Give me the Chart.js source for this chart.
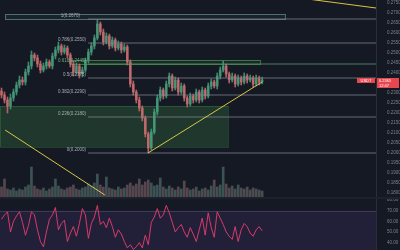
<!DOCTYPE html>
<html>
<head>
<meta charset="utf-8">
<script src="https://cdn.jsdelivr.net/npm/chart.js@4.4.1/dist/chart.umd.min.js"></script>
<style>
  html, body { margin: 0; padding: 0; background: #151924; }
  #wrap { position: relative; width: 400px; height: 250px; overflow: hidden; background: #151924; }
  canvas { position: absolute; left: 0; }
  #priceCanvas { top: 0; }
  #rsiCanvas { top: 199px; }
  #sep { position: absolute; left: 0; top: 197px; width: 400px; height: 2px; background: #1d212c; }
</style>
</head>
<body>
<div id="wrap">
  <canvas id="priceCanvas" width="400" height="199"></canvas>
  <div id="sep"></div>
  <canvas id="rsiCanvas" width="400" height="51"></canvas>
</div>
<script>
// ---- data ----
const opens = [0.2310,0.2290,0.2265,0.2235,0.2275,0.2305,0.2340,0.2365,0.2355,0.2405,
  0.2435,0.2490,0.2475,0.2445,0.2415,0.2435,0.2455,0.2435,0.2485,0.2515,
  0.2535,0.2505,0.2525,0.2490,0.2445,0.2405,0.2435,0.2395,0.2415,0.2465,
  0.2505,0.2535,0.2575,0.2645,0.2605,0.2555,0.2585,0.2535,0.2565,0.2525,
  0.2545,0.2515,0.2530,0.2455,0.2345,0.2305,0.2265,0.2225,0.2175,0.2095,
  0.2025,0.2105,0.2205,0.2275,0.2315,0.2285,0.2345,0.2385,0.2325,0.2365,
  0.2305,0.2335,0.2275,0.2245,0.2285,0.2265,0.2305,0.2265,0.2315,0.2285,
  0.2335,0.2355,0.2335,0.2385,0.2415,0.2435,0.2395,0.2365,0.2385,0.2345,
  0.2375,0.2355,0.2385,0.2365,0.2375,0.2345,0.2375,0.2355];
const highs = [0.2325,0.2305,0.2280,0.2295,0.2320,0.2355,0.2385,0.2380,0.2420,0.2455,
  0.2510,0.2500,0.2490,0.2460,0.2450,0.2470,0.2465,0.2500,0.2530,0.2555,
  0.2545,0.2540,0.2535,0.2500,0.2460,0.2450,0.2445,0.2430,0.2475,0.2520,
  0.2550,0.2590,0.2665,0.2655,0.2620,0.2600,0.2595,0.2580,0.2575,0.2560,
  0.2555,0.2545,0.2540,0.2465,0.2360,0.2315,0.2280,0.2235,0.2185,0.2105,
  0.2120,0.2220,0.2290,0.2330,0.2325,0.2360,0.2400,0.2395,0.2380,0.2375,
  0.2350,0.2345,0.2285,0.2300,0.2295,0.2320,0.2315,0.2330,0.2325,0.2350,
  0.2370,0.2365,0.2400,0.2430,0.2460,0.2445,0.2405,0.2400,0.2395,0.2390,
  0.2385,0.2400,0.2395,0.2390,0.2385,0.2390,0.2385,0.2380];
const lows = [0.2275,0.2250,0.2200,0.2220,0.2260,0.2290,0.2325,0.2340,0.2340,0.2390,
  0.2420,0.2460,0.2430,0.2400,0.2405,0.2420,0.2425,0.2420,0.2470,0.2500,
  0.2490,0.2495,0.2475,0.2430,0.2385,0.2395,0.2375,0.2380,0.2405,0.2450,
  0.2490,0.2520,0.2565,0.2590,0.2540,0.2545,0.2520,0.2525,0.2510,0.2515,
  0.2500,0.2505,0.2440,0.2330,0.2290,0.2250,0.2210,0.2160,0.2080,0.2000,
  0.2015,0.2095,0.2190,0.2260,0.2270,0.2275,0.2330,0.2310,0.2315,0.2290,
  0.2295,0.2260,0.2230,0.2235,0.2250,0.2255,0.2250,0.2255,0.2270,0.2275,
  0.2320,0.2325,0.2320,0.2370,0.2405,0.2380,0.2350,0.2355,0.2330,0.2335,
  0.2340,0.2345,0.2350,0.2355,0.2330,0.2335,0.2340,0.2345];
const closes = [0.2290,0.2265,0.2235,0.2275,0.2305,0.2340,0.2365,0.2355,0.2405,0.2435,
  0.2490,0.2475,0.2445,0.2415,0.2435,0.2455,0.2435,0.2485,0.2515,0.2535,
  0.2505,0.2525,0.2490,0.2445,0.2405,0.2435,0.2395,0.2415,0.2465,0.2505,
  0.2535,0.2575,0.2645,0.2605,0.2555,0.2585,0.2535,0.2565,0.2525,0.2545,
  0.2515,0.2530,0.2455,0.2345,0.2305,0.2265,0.2225,0.2175,0.2095,0.2025,
  0.2105,0.2205,0.2275,0.2315,0.2285,0.2345,0.2385,0.2325,0.2365,0.2305,
  0.2335,0.2275,0.2245,0.2285,0.2265,0.2305,0.2265,0.2315,0.2285,0.2335,
  0.2355,0.2335,0.2385,0.2415,0.2435,0.2395,0.2365,0.2385,0.2345,0.2375,
  0.2355,0.2385,0.2365,0.2375,0.2345,0.2375,0.2355,0.2365];
const volumes = [1.2,2.0,1.0,0.9,1.1,0.8,1.0,0.9,1.2,1.4,
  3.2,1.3,1.0,0.9,1.1,0.8,1.0,1.2,2.0,1.3,
  1.0,0.9,1.1,1.2,1.4,1.0,0.9,1.1,1.2,1.5,
  1.3,1.6,2.5,1.4,1.2,2.2,1.1,1.0,0.9,1.2,
  1.0,1.1,1.4,1.6,1.3,1.5,2.0,1.4,1.7,1.9,
  1.6,1.3,1.4,2.1,1.2,1.0,1.3,1.1,0.9,1.2,
  1.0,1.8,1.1,0.9,1.0,1.2,0.8,1.0,1.1,0.9,
  1.3,1.9,1.2,1.4,3.2,1.5,1.1,1.3,1.0,1.4,
  1.1,1.0,1.2,0.9,1.1,1.0,0.9,0.8];
const rsiValues = [62,66,69,50,60,65,69,59,47,56,
  69,66,52,41,36,50,62,66,73,52,
  58,61,41,49,55,46,58,72,66,44,
  58,64,75,57,60,54,63,55,45,52,
  48,41,35,38,33.5,36,40,35,47,38,
  59,64,72,63,66,75,68,59,50,54,
  57,50,45,54,48,41,52,63,47,68,
  54,45,69,63,57,50,46,43,55,41,
  52,58,55,49,46,52,55,51];

const priceTicks = [0.2750,0.2700,0.2650,0.2600,0.2550,0.2500,0.2450,0.2400,0.2350,0.2300,
  0.2250,0.2200,0.2150,0.2100,0.2050,0.2000,0.1950,0.1900,0.1850,0.1800];
const rsiTicks = [80, 70, 60, 50, 40];

// fibonacci retracement (ratio, price)
const fibRatios = ['1', '0.786', '0.618', '0.5', '0.382', '0.236', '0'];
const fibPrices = [0.2670, 0.2550, 0.2445, 0.2375, 0.2290, 0.2180, 0.2000];
const fibStart = 28.9;
const barsEnd = 125;

// boxes: [fromIndex, toIndex, topPrice, bottomPrice]
const zoneBox = [-0.5, 75.6, 0.2235, 0.2030];
const topBox = [1.2, 94.6, 0.2695, 0.2670];
const goldenBox = [22.9, 86.3, 0.2465, 0.2445];

// trend lines: [[index, price], [index, price]]
const trendDown = [[1.2, 0.2115], [34.5, 0.1790]];
const trendUp = [[48.9, 0.2000], [87, 0.2355]];
const trendTop = [[99.6, 0.2775], [125, 0.2725]];

const lastLabel = '0.2365';
const countdown = '12:47';

// ---- chart ----
const UP = 'rgba(70,155,122,0.85)';
const DOWN = 'rgba(200,108,112,0.85)';
const FONT = '"Liberation Sans", Arial, sans-serif';

const candleColors = closes.map((c, i) => c >= opens[i] ? UP : DOWN);
const volColors = closes.map((c, i) => c >= opens[i] ? 'rgba(95,130,120,0.55)' : 'rgba(140,110,115,0.55)');

function seg(points) {
  return points.map(p => ({ x: p[0], y: p[1] }));
}

const lineStyle = {
  type: 'line', pointRadius: 0, borderWidth: 1, tension: 0, yAxisID: 'y', order: 0
};

const fibDatasets = fibPrices.map((p, i) => Object.assign({}, lineStyle, {
  data: [{ x: fibStart, y: p }, { x: barsEnd, y: p }],
  borderColor: i === 2 ? 'rgba(90,150,110,0.8)' : 'rgba(130,134,146,0.75)'
}));

const drawings = {
  id: 'drawings',
  beforeDatasetsDraw(chart) {
    const { ctx, scales: { x, y } } = chart;
    const box = (b) => {
      const l = x.getPixelForValue(b[0]), r = x.getPixelForValue(b[1]);
      const t = y.getPixelForValue(b[2]), btm = y.getPixelForValue(b[3]);
      return [l, t, r - l, btm - t];
    };
    ctx.save();
    let r = box(zoneBox);
    ctx.fillStyle = 'rgba(76,175,80,0.2)';
    ctx.fillRect(...r);
    ctx.strokeStyle = 'rgba(76,175,80,0.25)';
    ctx.strokeRect(r[0] + 0.5, r[1] + 0.5, r[2], r[3]);

    r = box(topBox);
    ctx.fillStyle = 'rgba(90,140,130,0.08)';
    ctx.fillRect(...r);
    ctx.strokeStyle = 'rgba(100,150,140,0.7)';
    ctx.strokeRect(r[0] + 0.5, r[1] + 0.5, r[2], r[3]);

    r = box(goldenBox);
    ctx.fillStyle = 'rgba(76,175,80,0.1)';
    ctx.fillRect(...r);
    ctx.strokeStyle = 'rgba(76,175,80,0.6)';
    ctx.strokeRect(r[0] + 0.5, r[1] + 0.5, r[2], r[3]);
    ctx.restore();
  },
  afterDatasetsDraw(chart) {
    const { ctx, scales: { x, y } } = chart;
    ctx.save();
    ctx.font = '4.5px ' + FONT;
    ctx.textAlign = 'right';
    ctx.textBaseline = 'bottom';
    const lx = x.getPixelForValue(fibStart) - 2;
    fibPrices.forEach((p, i) => {
      ctx.fillStyle = i === 2 ? 'rgba(110,190,130,0.9)' : 'rgba(190,193,200,0.85)';
      const py = i === 0 ? y.getPixelForValue(topBox[2]) + 4.5 : y.getPixelForValue(p) - 0.5;
      ctx.fillText(fibRatios[i] + '(' + p.toFixed(4) + ')', i === 0 ? lx - 6 : lx, py);
    });
    ctx.restore();
  },
  afterDraw(chart) {
    const { ctx, chartArea, scales: { y } } = chart;
    const py = Math.round(y.getPixelForValue(closes[closes.length - 1]));
    ctx.save();
    ctx.fillStyle = '#e8474f';
    ctx.fillRect(chartArea.right - 19, py - 2, 18, 5);
    ctx.fillRect(chartArea.right + 1, py - 2, 22, 10);
    ctx.fillStyle = '#ffffff';
    ctx.font = '4px ' + FONT;
    ctx.textBaseline = 'middle';
    ctx.textAlign = 'center';
    ctx.fillText('USDT', chartArea.right - 10, py + 0.5);
    ctx.textAlign = 'left';
    ctx.fillText(lastLabel, chartArea.right + 3, py + 0.5);
    ctx.fillText(countdown, chartArea.right + 3, py + 5.5);
    ctx.restore();
  }
};

const fitAxis = (scale) => {
  scale.width = 24;
  scale.paddingTop = 0;
  scale.paddingBottom = 0;
};

new Chart(document.getElementById('priceCanvas'), {
  type: 'bar',
  data: {
    datasets: [
      Object.assign({}, lineStyle, { data: seg(trendDown), borderColor: 'rgba(225,205,70,0.95)' }),
      Object.assign({}, lineStyle, { data: seg(trendUp), borderColor: 'rgba(225,205,70,0.95)' }),
      Object.assign({}, lineStyle, { data: seg(trendTop), borderColor: 'rgba(225,205,70,0.95)' }),
      ...fibDatasets,
      {
        type: 'bar', yAxisID: 'y', order: 1, grouped: false,
        data: closes.map((c, i) => ({ x: i, y: [opens[i], c] })),
        backgroundColor: candleColors, barThickness: 2, borderWidth: 0
      },
      {
        type: 'bar', yAxisID: 'y', order: 2, grouped: false,
        data: closes.map((c, i) => ({ x: i, y: [lows[i], highs[i]] })),
        backgroundColor: candleColors, barThickness: 1, borderWidth: 0
      },
      {
        type: 'bar', yAxisID: 'yv', order: 3, grouped: false,
        data: volumes.map((v, i) => ({ x: i, y: v })),
        backgroundColor: volColors, barThickness: 2, borderWidth: 0
      }
    ]
  },
  options: {
    responsive: false,
    animation: false,
    devicePixelRatio: 1,
    layout: { padding: 0 },
    plugins: { legend: { display: false }, tooltip: { enabled: false } },
    scales: {
      x: { type: 'linear', display: false, min: -0.5, max: barsEnd, offset: false },
      y: {
        position: 'right', min: 0.1770, max: 0.2765,
        grid: { display: false },
        border: { display: true, color: '#2a2e39' },
        afterBuildTicks: (s) => {
          const last = closes[closes.length - 1];
          s.ticks = priceTicks.filter(v => Math.abs(v - last) > 0.003).map(v => ({ value: v }));
        },
        afterFit: fitAxis,
        ticks: {
          color: '#7b808d', padding: 3,
          font: { size: 4.5, family: FONT },
          callback: (v) => v.toFixed(4)
        }
      },
      yv: { display: false, min: 0, max: 19.9 }
    }
  },
  plugins: [drawings]
});

const rsiBand = {
  id: 'rsiBand',
  beforeDatasetsDraw(chart) {
    const { ctx, chartArea, scales: { y } } = chart;
    const t = y.getPixelForValue(70);
    ctx.save();
    ctx.fillStyle = 'rgba(126,87,194,0.13)';
    ctx.fillRect(chartArea.left, t, chartArea.right - chartArea.left, chartArea.bottom - t);
    ctx.strokeStyle = 'rgba(120,100,170,0.35)';
    ctx.beginPath();
    ctx.moveTo(chartArea.left, Math.round(t) + 0.5);
    ctx.lineTo(chartArea.right, Math.round(t) + 0.5);
    ctx.stroke();
    ctx.restore();
  }
};

new Chart(document.getElementById('rsiCanvas'), {
  type: 'line',
  data: {
    datasets: [{
      data: rsiValues.map((v, i) => ({ x: i, y: v })),
      borderColor: 'rgba(222,60,110,0.95)', borderWidth: 1, pointRadius: 0, tension: 0
    }]
  },
  options: {
    responsive: false,
    animation: false,
    devicePixelRatio: 1,
    layout: { padding: 0 },
    plugins: { legend: { display: false }, tooltip: { enabled: false } },
    scales: {
      x: { type: 'linear', display: false, min: -0.5, max: barsEnd },
      y: {
        position: 'right', min: 33, max: 81,
        grid: { display: false },
        border: { display: true, color: '#2a2e39' },
        afterBuildTicks: (s) => { s.ticks = rsiTicks.map(v => ({ value: v })); },
        afterFit: fitAxis,
        ticks: {
          color: '#7b808d', padding: 3,
          font: { size: 4.5, family: FONT },
          callback: (v) => v.toFixed(2)
        }
      }
    }
  },
  plugins: [rsiBand]
});
</script>
</body>
</html>
